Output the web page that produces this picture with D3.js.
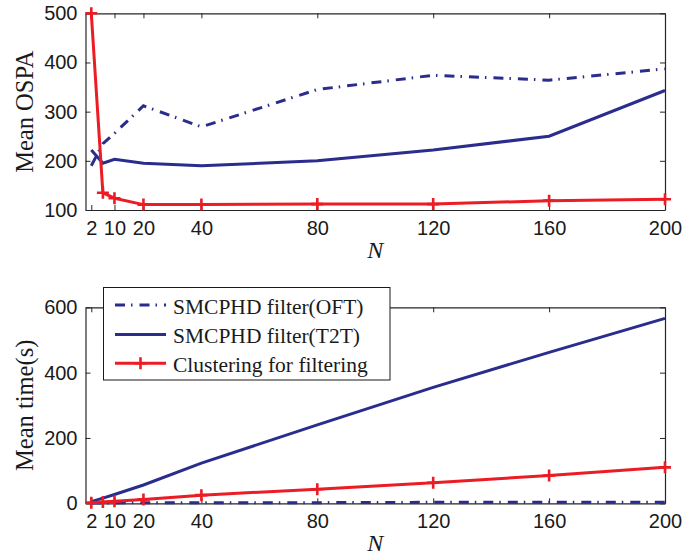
<!DOCTYPE html>
<html>
<head>
<meta charset="utf-8">
<script src="https://cdn.jsdelivr.net/npm/d3@7"></script>
<style>
  html, body { margin: 0; padding: 0; background: #fff; }
  svg { display: block; }
</style>
</head>
<body>
<svg id="chart" width="685" height="557"></svg>
<script>
// Particle counts N evaluated
const nValues = [2, 6, 10, 20, 40, 80, 120, 160, 200];
const xTickValues = [2, 10, 20, 40, 80, 120, 160, 200];

// Mean OSPA per N
const ospaOFT = [190, 235, 256, 312, 269, 345, 374, 364, 387];
const ospaT2T = [222, 195, 203, 195, 190, 200, 222, 250, 343];
const ospaClustering = [500, 135, 124, 111, 111, 112, 112, 119, 122];
const ospaTicks = [100, 200, 300, 400, 500];

// Mean run time (s) per N
const timeOFT = [1, 1, 1, 2, 2, 2, 3, 3, 3];
const timeT2T = [5, 16, 27, 56, 123, 240, 355, 462, 566];
const timeClustering = [2, 4, 6, 12, 25, 43, 63, 85, 110];
const timeTicks = [0, 200, 400, 600];

const seriesNames = ["SMCPHD filter(OFT)", "SMCPHD filter(T2T)", "Clustering for filtering"];

const BLUE = "#2a2d8c";
const RED = "#ec1c24";
const AXIS = "#262626";
const DASHDOT = "10,6,1.5,7";
const SERIF = "'Liberation Serif', 'Times New Roman', serif";
const SANS = "'Liberation Sans', Arial, sans-serif";

const svg = d3.select("#chart");

const left = 85.5, right = 665;
const x = d3.scaleLinear().domain([0, 200]).range([left, right]);

function drawPanel(cfg) {
  const y = d3.scaleLinear().domain(cfg.yDomain).range([cfg.bottom, cfg.top]);
  const g = svg.append("g");

  // frame with inward ticks on all four sides
  const axes = [
    {axis: d3.axisBottom(x).tickValues(xTickValues), t: `translate(0,${cfg.bottom})`, labels: true, pad: 11},
    {axis: d3.axisTop(x).tickValues(xTickValues), t: `translate(0,${cfg.top})`, labels: false, pad: 8},
    {axis: d3.axisLeft(y).tickValues(cfg.yTicks), t: `translate(${left},0)`, labels: true, pad: 8},
    {axis: d3.axisRight(y).tickValues(cfg.yTicks), t: `translate(${right},0)`, labels: false, pad: 8}
  ];
  axes.forEach(a => {
    a.axis.tickSizeInner(-5).tickSizeOuter(0).tickPadding(a.pad);
    const ag = g.append("g").attr("transform", a.t).call(a.axis);
    ag.select(".domain").attr("stroke", AXIS).attr("stroke-width", 1.2);
    ag.selectAll(".tick line").attr("stroke", AXIS).attr("stroke-width", 1);
    ag.selectAll(".tick text")
      .attr("font-family", SANS)
      .attr("font-size", 20)
      .attr("fill", "#1a1a1a")
      .style("display", a.labels ? null : "none");
  });

  const line = d3.line().x((d, i) => x(nValues[i])).y(d => y(d));

  g.append("path").datum(cfg.oft).attr("d", line)
    .attr("fill", "none").attr("stroke", BLUE).attr("stroke-width", 3)
    .attr("stroke-dasharray", DASHDOT);
  g.append("path").datum(cfg.t2t).attr("d", line)
    .attr("fill", "none").attr("stroke", BLUE).attr("stroke-width", 3);
  g.append("path").datum(cfg.clust).attr("d", line)
    .attr("fill", "none").attr("stroke", RED).attr("stroke-width", 3)
    .attr("stroke-linejoin", "round");

  // '+' markers on the clustering curve
  g.selectAll(".mk").data(cfg.clust).enter().append("path")
    .attr("transform", (d, i) => `translate(${x(nValues[i])},${y(d)})`)
    .attr("d", "M-6,0H6M0,-6V6")
    .attr("stroke", RED).attr("stroke-width", 2.6).attr("fill", "none");

  // axis titles
  g.append("text")
    .attr("transform", `translate(${cfg.yLabelX},${(cfg.top + cfg.bottom) / 2}) rotate(-90)`)
    .attr("text-anchor", "middle")
    .attr("font-family", SERIF)
    .attr("font-size", 24.5).attr("fill", "#1a1a1a")
    .text(cfg.yLabel);
  g.append("text")
    .attr("x", (left + right) / 2).attr("y", cfg.bottom + 48)
    .attr("text-anchor", "middle")
    .attr("font-family", SERIF)
    .attr("font-style", "italic")
    .attr("font-size", 24).attr("fill", "#1a1a1a")
    .text("N");
}

drawPanel({
  top: 13.3, bottom: 210, yDomain: [100, 500], yTicks: ospaTicks,
  oft: ospaOFT, t2t: ospaT2T, clust: ospaClustering,
  yLabel: "Mean OSPA", yLabelX: 33
});

drawPanel({
  top: 307.3, bottom: 503.3, yDomain: [0, 600], yTicks: timeTicks,
  oft: timeOFT, t2t: timeT2T, clust: timeClustering,
  yLabel: "Mean time(s)", yLabelX: 33
});

// legend
const lg = svg.append("g");
lg.append("rect").attr("x", 103.5).attr("y", 287.5).attr("width", 286.5).attr("height", 92.5)
  .attr("fill", "#fff").attr("stroke", "#1a1a1a").attr("stroke-width", 1);
const legendStyles = [
  {stroke: BLUE, dash: DASHDOT, marker: false},
  {stroke: BLUE, dash: null, marker: false},
  {stroke: RED, dash: null, marker: true}
];
const rowY = [305, 334.5, 363.3];
seriesNames.forEach((name, i) => {
  const s = legendStyles[i];
  lg.append("line").attr("x1", 115).attr("x2", 166).attr("y1", rowY[i]).attr("y2", rowY[i])
    .attr("stroke", s.stroke).attr("stroke-width", 3)
    .attr("stroke-dasharray", s.dash);
  if (s.marker) {
    lg.append("path").attr("transform", `translate(140.5,${rowY[i]})`)
      .attr("d", "M-6,0H6M0,-6V6").attr("stroke", s.stroke).attr("stroke-width", 2.6);
  }
  lg.append("text").attr("x", 173).attr("y", rowY[i] + 8.5)
    .attr("font-family", SERIF)
    .attr("font-size", 21.5).attr("fill", "#1a1a1a")
    .text(name);
});
</script>
</body>
</html>
